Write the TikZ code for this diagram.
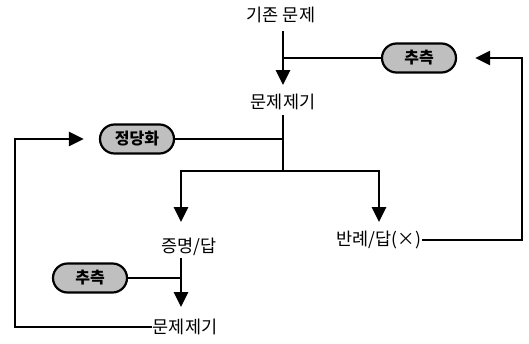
\documentclass[tikz,border=0pt]{standalone}
\usepackage{fontspec}
\setmainfont{Noto Sans CJK KR}
\usetikzlibrary{arrows.meta,shapes.misc}
\begin{document}
\begin{tikzpicture}[x=1pt,y=-1pt,
  lbl/.style={inner sep=1pt,font=\fontsize{17.5}{20}\selectfont},
  pill/.style={rounded rectangle,draw=black,line width=2.2pt,fill=gray!50,minimum width=76pt,minimum height=29pt,inner sep=1pt,font=\fontsize{16}{18}\selectfont\bfseries},
  thickln/.style={line width=2.8pt},
  thinln/.style={line width=1.6pt},
  arr/.style={thickln,-{Triangle[length=15pt,width=14pt]}}]
\useasboundingbox (0,0) rectangle (529,343);
% nodes
\node[lbl] (t1) at (281,15) {기존 문제};
\node[lbl] (t2) at (283,102) {문제제기};
\node[pill] (p1) at (419,58) {추측};
\node[pill] (p2) at (137,139) {정당화};
\node[lbl] (t3) at (189,247) {증명/답};
\node[lbl] (t4) at (379,240) {반례/답(×)};
\node[pill] (p3) at (90,278) {추측};
\node[lbl] (t5) at (185,327) {문제제기};
% coordinates
\coordinate (j1) at (283,58);
\coordinate (j2) at (283,139);
\coordinate (j3) at (283,171);
\coordinate (a3) at (181,222);
\coordinate (a4) at (379,222);
\coordinate (s5) at (181,258);
\coordinate (e5) at (181,307);
\coordinate (j5) at (181,278);
\coordinate (c1) at (522,58);
\coordinate (c2) at (15,139);
% connectors
\draw[arr] (283,31) -- (283,85);
\draw[thickln] (j1) -- (p1.west);
\draw[thickln] (283,115) -- (j3);
\draw[thinln] (p2.east) -- (j2);
\draw[arr] (j3) -| (a3);
\draw[arr] (j3) -| (a4);
\draw[arr] (s5) -- (e5);
\draw[thinln] (p3.east) -- (j5);
\draw[arr,shorten >=18pt] (t4.east) -| (c1) -- (p1.east);
\draw[arr,shorten >=15pt] (t5.west) -| (c2) -- (p2.west);
\end{tikzpicture}
\end{document}
